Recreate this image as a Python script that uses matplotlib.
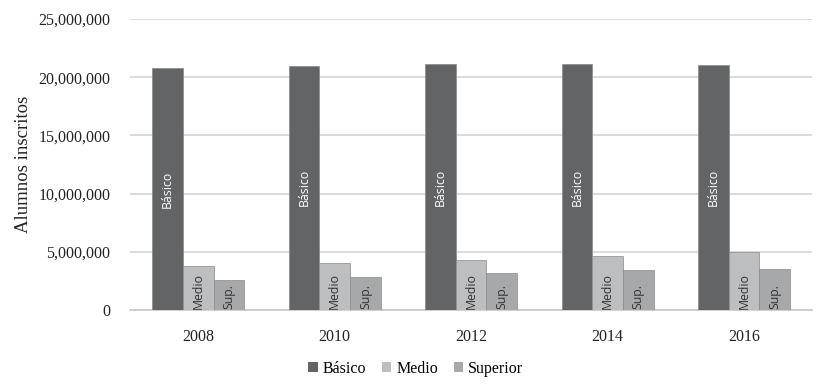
import matplotlib
matplotlib.use("Agg")
import matplotlib.pyplot as plt
import numpy as np
from matplotlib.ticker import FuncFormatter

years = ["2008", "2010", "2012", "2014", "2016"]
basico = [20.8e6, 21.0e6, 21.1e6, 21.15e6, 21.05e6]
medio = [3.78e6, 4.04e6, 4.3e6, 4.64e6, 4.96e6]
superior = [2.58e6, 2.85e6, 3.18e6, 3.44e6, 3.52e6]
series_names = ["Básico", "Medio", "Superior"]
inner_labels = ["Básico", "Medio", "Sup."]

colors = ["#636466", "#bdbebf", "#a7a8aa"]

fig = plt.figure(figsize=(8.28, 3.88), dpi=100)
ax = fig.add_axes([0.157, 0.201, 0.824, 0.75])

x = np.arange(len(years))
w = 0.225
data = [basico, medio, superior]
offsets = [-w, 0, w]
serif = "Liberation Serif"
for i, (vals, name) in enumerate(zip(data, series_names)):
    ax.bar(x + offsets[i], vals, width=w, color=colors[i], edgecolor="#8a8a8a",
           linewidth=0.5, label=name, zorder=3)
    for xi, v in zip(x, vals):
        if i == 0:
            ax.text(xi + offsets[i], v * 0.5, inner_labels[i], rotation=90, ha="center",
                    va="center", color="white", fontsize=8.8, family="Open Sans", zorder=4)
        else:
            ax.text(xi + offsets[i], 100000, inner_labels[i], rotation=90, ha="center",
                    va="bottom", color="#333333", fontsize=8.8, family="Open Sans", zorder=4)

ax.set_xlim(-0.5, len(years) - 0.5)
ax.set_ylim(0, 25e6)
ax.set_yticks(np.arange(0, 25e6 + 1, 5e6))
ax.yaxis.set_major_formatter(FuncFormatter(lambda v, p: f"{int(v):,}"))
ax.set_xticks(x)
ax.set_xticklabels(years)
ax.grid(axis="y", color="#d4d4d4", linewidth=1.2, zorder=0)
for s in ["top", "right", "left"]:
    ax.spines[s].set_visible(False)
ax.spines["bottom"].set_color("#c8c8c8")
ax.spines["bottom"].set_linewidth(1.2)
ax.tick_params(axis="x", length=0, labelsize=11.5, colors="#222222", pad=14)
ax.tick_params(axis="y", length=0, labelsize=11.5, colors="#222222", pad=14)
for lab in ax.get_xticklabels() + ax.get_yticklabels():
    lab.set_family(serif)
ax.set_ylabel("Alumnos inscritos", family=serif, fontsize=13.5, color="#222222", labelpad=5)

leg = fig.legend(loc="lower center", bbox_to_anchor=(0.502, -0.008), ncol=3, frameon=False,
                 prop={"family": serif, "size": 11.5}, handlelength=0.6, handleheight=0.6,
                 handletextpad=0.3, columnspacing=1.0)
for h in leg.legend_handles:
    h.set_edgecolor("none")
fig.savefig("out.png", dpi=100)
